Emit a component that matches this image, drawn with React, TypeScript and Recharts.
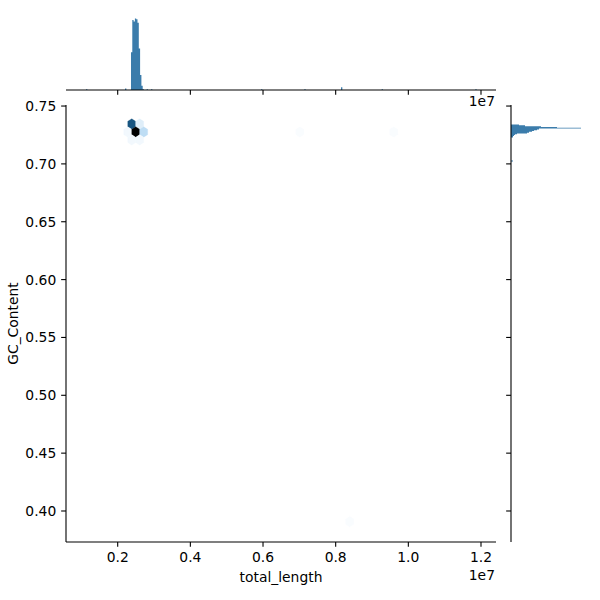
import React from 'react';
import {
  ScatterChart,
  Scatter,
  ComposedChart,
  Area,
  XAxis,
  YAxis,
  Label,
} from 'recharts';

const lengthDomain = [577000, 12413000];
const gcDomain = [0.3732, 0.7509];
const lengthTicks = [2000000, 4000000, 6000000, 8000000, 10000000, 12000000];
const gcTicks = [0.4, 0.45, 0.5, 0.55, 0.6, 0.65, 0.7, 0.75];

// hexbin cells
const hexLength = [2386000, 2606000, 2276000, 2496000, 2716000, 2386000, 2606000, 7011000, 9597000, 8386000];
const hexGC = [0.7345, 0.7345, 0.7276, 0.7276, 0.7276, 0.7207, 0.7207, 0.7276, 0.7276, 0.3908];
const hexCount = [48, 6, 3, 68, 11, 3, 3, 2, 2, 2];

// top marginal: total_length histogram
const lenBinWidth = 35800;
const lenBinStart = [
  1128900, 2202300, 2366000, 2401800, 2437600, 2473400, 2509200, 2545000, 2580800, 2616600,
  2652400, 2688200, 2796900, 2918000, 5945700, 7137600, 8147700, 9265300, 11844300,
];
const lenBinCount = [1, 2, 53, 98, 96, 100, 99, 94, 58, 21, 6, 1, 1, 1, 1, 1, 4, 1, 1];

// right marginal: GC_Content histogram
const gcBinWidth = 0.0007;
const gcBinStart = [
  0.70215, 0.7228, 0.7235, 0.7242, 0.7249, 0.7256, 0.7263, 0.727, 0.7277, 0.7284, 0.7291,
  0.7298, 0.7305, 0.7312, 0.7319, 0.7326, 0.7333,
];
const gcBinCount = [2, 2, 2, 3, 4, 6, 16, 18, 21, 23, 26, 28, 70, 46, 30, 14, 8];

const FONT = 'DejaVu Sans';
const FS = 13.89;
const TICK = 4.86;
const HIST = '#3b7cab';

const hexData = hexLength.map((x, i) => ({ x, y: hexGC[i], count: hexCount[i] }));
const maxCount = Math.max(...hexCount);

const lenHist = lenBinStart.flatMap((lo, i) => [
  { x: lo, c: 0 },
  { x: lo, c: lenBinCount[i] },
  { x: lo + lenBinWidth, c: lenBinCount[i] },
  { x: lo + lenBinWidth, c: 0 },
]);

const gcHist = gcBinStart.flatMap((lo, i) => [
  { g: lo, c: 0 },
  { g: lo, c: gcBinCount[i] },
  { g: lo + gcBinWidth, c: gcBinCount[i] },
  { g: lo + gcBinWidth, c: 0 },
]);

const hexColor = (n: number) => {
  const t = (n - 1) / (maxCount - 1);
  return `hsl(205, 70%, ${(1 - t) * 100}%)`;
};

const Hex = (props: any) => {
  const { cx, cy, payload } = props;
  const w = 4;
  const s = 2.67;
  const h = 5.33;
  const pts = [
    [cx + w, cy - s],
    [cx + w, cy + s],
    [cx, cy + h],
    [cx - w, cy + s],
    [cx - w, cy - s],
    [cx, cy - h],
  ]
    .map((p) => p.join(','))
    .join(' ');
  const c = hexColor(payload.count);
  return <polygon points={pts} fill={c} stroke={c} strokeWidth={0.2} />;
};

const axisLine = { stroke: '#000', strokeWidth: 1.1 };
const tickLine = { stroke: '#000', strokeWidth: 1.1 };
const tickStyle = { fill: '#000', fontSize: FS, fontFamily: FONT };
const noLabel = () => <g />;

const textStyle = { fontFamily: FONT, fontSize: FS, fill: '#000' };

export default function App() {
  return (
    <div style={{ position: 'absolute', left: 0, top: 0, width: 600, height: 600, background: '#fff' }}>
      <div style={{ position: 'absolute', left: 0, top: 0 }}>
        <ScatterChart width={600} height={600} margin={{ top: 105, right: 104, bottom: 0, left: 0 }}>
          <XAxis
            type="number"
            dataKey="x"
            domain={lengthDomain}
            ticks={lengthTicks}
            allowDataOverflow
            height={58}
            tickFormatter={(v: number) => (v / 1e7).toFixed(1)}
            tick={tickStyle}
            tickSize={TICK}
            tickMargin={TICK}
            axisLine={axisLine}
            tickLine={tickLine}
          >
            <Label
              content={() => (
                <g>
                  <text x={281} y={582} textAnchor="middle" style={textStyle}>
                    total_length
                  </text>
                  <text x={495} y={580} textAnchor="end" style={textStyle}>
                    1e7
                  </text>
                </g>
              )}
            />
          </XAxis>
          <YAxis
            type="number"
            dataKey="y"
            domain={gcDomain}
            ticks={gcTicks}
            allowDataOverflow
            width={66}
            tickFormatter={(v: number) => v.toFixed(2)}
            tick={tickStyle}
            tickSize={TICK}
            tickMargin={TICK}
            axisLine={axisLine}
            tickLine={tickLine}
          >
            <Label
              content={() => (
                <text
                  x={13}
                  y={323.5}
                  transform="rotate(-90 13 323.5)"
                  textAnchor="middle"
                  dominantBaseline="central"
                  style={textStyle}
                >
                  GC_Content
                </text>
              )}
            />
          </YAxis>
          <Scatter data={hexData} shape={<Hex />} isAnimationActive={false} />
        </ScatterChart>
      </div>

      <div style={{ position: 'absolute', left: 0, top: 0 }}>
        <ComposedChart width={600} height={120} data={lenHist} margin={{ top: 15, right: 104, bottom: 0, left: 66 }}>
          <XAxis
            type="number"
            dataKey="x"
            domain={lengthDomain}
            ticks={lengthTicks}
            allowDataOverflow
            height={30}
            tick={noLabel}
            tickSize={TICK}
            axisLine={axisLine}
            tickLine={tickLine}
          >
            <Label
              content={() => (
                <text x={495} y={105.5} textAnchor="end" style={textStyle}>
                  1e7
                </text>
              )}
            />
          </XAxis>
          <YAxis type="number" domain={[0, 105]} hide />
          <Area
            type="linear"
            dataKey="c"
            fill={HIST}
            fillOpacity={1}
            stroke="none"
            isAnimationActive={false}
            dot={false}
            activeDot={false}
          />
        </ComposedChart>
      </div>

      <div style={{ position: 'absolute', left: 0, top: 0 }}>
        <ComposedChart
          width={600}
          height={600}
          data={gcHist}
          layout="vertical"
          margin={{ top: 105, right: 15, bottom: 58, left: 451 }}
        >
          <XAxis type="number" dataKey="c" domain={[0, 74]} allowDataOverflow hide />
          <YAxis
            type="number"
            dataKey="g"
            domain={gcDomain}
            ticks={gcTicks}
            allowDataOverflow
            reversed
            width={60}
            tick={noLabel}
            tickSize={TICK}
            axisLine={axisLine}
            tickLine={tickLine}
          />
          <Area
            type="linear"
            dataKey="c"
            fill={HIST}
            fillOpacity={1}
            stroke="none"
            isAnimationActive={false}
            dot={false}
            activeDot={false}
          />
        </ComposedChart>
      </div>
    </div>
  );
}
